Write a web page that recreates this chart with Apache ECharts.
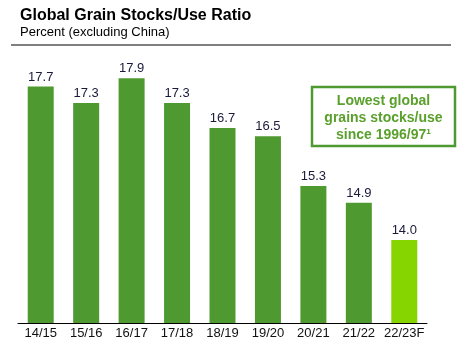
<!DOCTYPE html>
<html>
<head>
<meta charset="utf-8">
<script src="https://cdn.jsdelivr.net/npm/echarts@6/dist/echarts.min.js"></script>
<style>
  html, body { margin: 0; padding: 0; background: #fff; }
  #chart { width: 473px; height: 352px; }
</style>
</head>
<body>
<div id="chart"></div>
<script>
// marketing years, last one is a forecast
var years = ['14/15', '15/16', '16/17', '17/18', '18/19', '19/20', '20/21', '21/22', '22/23F'];
var ratios = [17.7, 17.3, 17.9, 17.3, 16.7, 16.5, 15.3, 14.9, 14.0];
var noteLines = ['Lowest global', 'grains stocks/use', 'since 1996/97\u00b9'];

var font = '"Liberation Sans", Arial, sans-serif';

var chart = echarts.init(document.getElementById('chart'));

var barData = ratios.map(function(v, i) {
    var last = i === ratios.length - 1;
    return {
        value: v,
        itemStyle: { color: last ? '#86d400' : '#4e9a30' }
    };
});

var option = {
    animation: false,
    grid: { left: 18, right: 46, top: 74, bottom: 29 },
    xAxis: {
        type: 'category',
        data: years,
        axisLine: { lineStyle: { color: '#000', width: 1 } },
        axisTick: { show: false },
        axisLabel: { color: '#111', fontFamily: font, fontSize: 13, margin: 4, interval: 0 }
    },
    yAxis: {
        type: 'value',
        min: 12,
        max: 18,
        show: false
    },
    series: [{
        type: 'bar',
        data: barData,
        barWidth: 26,
        label: {
            show: true,
            position: 'top',
            distance: 3,
            color: '#1a1a3a',
            fontFamily: font,
            fontSize: 13,
            formatter: function(p) { return p.value.toFixed(1); }
        }
    }],
    graphic: [
        {
            type: 'text', left: 20, top: 8,
            style: { text: 'Global Grain Stocks/Use Ratio', fill: '#000', font: 'bold 16px ' + font }
        },
        {
            type: 'text', left: 20, top: 26,
            style: { text: 'Percent (excluding China)', fill: '#000', font: '13px ' + font }
        },
        {
            type: 'line',
            shape: { x1: 11, y1: 45, x2: 451, y2: 45 },
            style: { stroke: '#000', lineWidth: 1 }
        },
        {
            type: 'rect',
            shape: { x: 312, y: 87, width: 143, height: 59 },
            style: { fill: '#fff', stroke: '#4e9a30', lineWidth: 2.5 }
        },
        {
            type: 'text', x: 383.5, y: 92.5,
            style: {
                text: noteLines.join('\n'),
                fill: '#5aa02c',
                font: 'bold 14px ' + font,
                lineHeight: 17,
                align: 'center'
            }
        }
    ]
};

chart.setOption(option);
</script>
</body>
</html>
